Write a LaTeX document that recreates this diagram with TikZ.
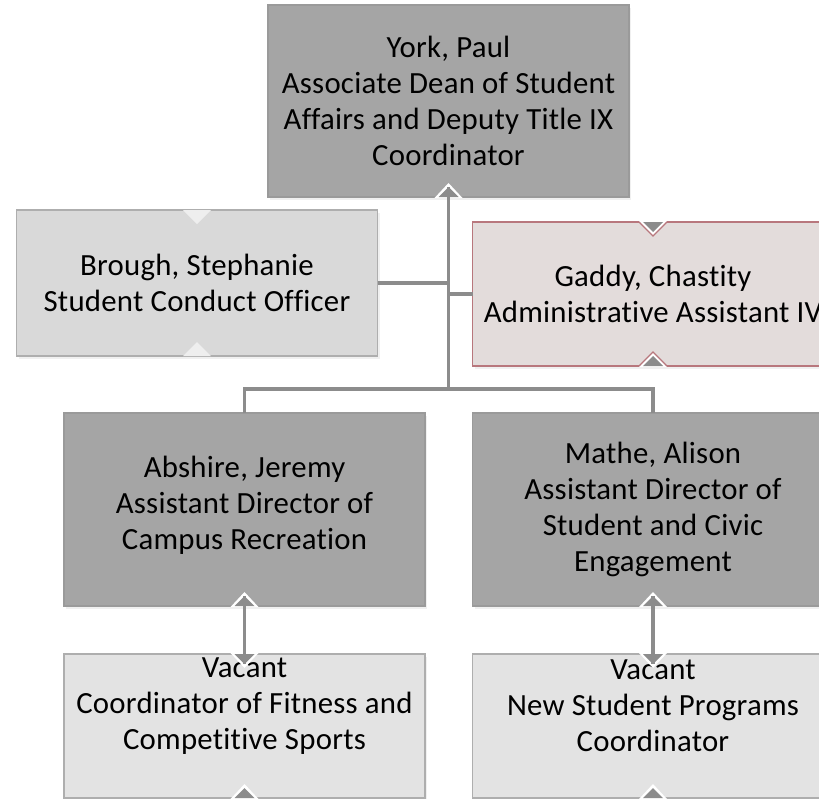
\documentclass[tikz,border=0pt]{standalone}
\usepackage{fontspec}
\setmainfont{Carlito}[Ligatures={NoCommon}, LetterSpace=0.8]
\usepackage{tikz}
\usetikzlibrary{positioning, calc, shadows}

\definecolor{boxdark}{HTML}{A5A5A5}
\definecolor{boxlight}{HTML}{D9D9D9}
\definecolor{boxpale}{HTML}{E3E3E3}
\definecolor{boxrose}{HTML}{E3DCDB}
\definecolor{edgegray}{HTML}{9A9A9A}
\definecolor{edgerose}{HTML}{B8777D}
\definecolor{linkgray}{HTML}{8C8C8C}

\begin{document}
\begin{tikzpicture}[x=1pt, y=-1pt,
	every node/.style={font=\fontsize{30.8}{36}\selectfont, align=center, outer sep=0pt, inner sep=0pt},
	orgbox/.style={rectangle, minimum width=361pt, line width=1.2pt,
		drop shadow={shadow xshift=2pt, shadow yshift=-3pt, opacity=0.12}},
	darkbox/.style={orgbox, fill=boxdark, draw=edgegray},
	lightbox/.style={orgbox, fill=boxlight, draw=edgegray!80},
	palebox/.style={orgbox, fill=boxpale, draw=edgegray!80},
	rosebox/.style={orgbox, fill=boxrose, draw=edgerose},
	link/.style={draw=linkgray, line width=3.5pt}]

	\useasboundingbox (0,0) rectangle (819,798);
	\clip (0,0) rectangle (819,798);

	\node [darkbox, minimum height=192pt] (york) at (448.5,101) {York, Paul\\Associate Dean of Student\\Affairs and Deputy Title IX\\Coordinator};
	\node [lightbox, minimum height=146pt] (brough) at (197,283) {Brough, Stephanie\\Student Conduct Officer};
	\node [rosebox, minimum height=144pt] (gaddy) at (653,294) {Gaddy, Chastity\\Administrative Assistant IV};
	\node [darkbox, minimum height=193pt, label={[yshift=4pt]center:Abshire, Jeremy\\Assistant Director of\\Campus Recreation}] (abshire) at (244.5,509.5) {};
	\node [darkbox, minimum height=193pt] (mathe) at (653,509.5) {Mathe, Alison\\Assistant Director of\\Student and Civic\\Engagement};
	\node [palebox, minimum height=144pt, label={[yshift=20pt]center:Vacant\\Coordinator of Fitness and\\Competitive Sports}] (vacA) at (244.5,726) {};
	\node [palebox, minimum height=144pt, label={[yshift=20pt]center:Vacant\\New Student Programs\\Coordinator}] (vacB) at (653,726) {};

	% notches on the lower edges
	\foreach \n in {york, gaddy, abshire, mathe, vacA, vacB}
	{
		\fill [white] ([xshift=-14pt, yshift=-1pt]\n.south) -- ([yshift=14pt]\n.south) -- ([xshift=14pt, yshift=-1pt]\n.south) -- cycle;
		\fill [linkgray] ([xshift=-10pt]\n.south) -- ([yshift=10pt]\n.south) -- ([xshift=10pt]\n.south) -- cycle;
	}
	% notches on the upper edges
	\foreach \n in {gaddy, vacA, vacB}
	{
		\fill [white] ([xshift=-14pt, yshift=1pt]\n.north) -- ([yshift=-14pt]\n.north) -- ([xshift=14pt, yshift=1pt]\n.north) -- cycle;
		\fill [linkgray] ([xshift=-10pt]\n.north) -- ([yshift=-10pt]\n.north) -- ([xshift=10pt]\n.north) -- cycle;
	}
	\fill [white!55!boxlight] ([xshift=-14pt]brough.north) -- ([yshift=-14pt]brough.north) -- ([xshift=14pt]brough.north) -- cycle;
	\fill [white!55!boxlight] ([xshift=-14pt]brough.south) -- ([yshift=14pt]brough.south) -- ([xshift=14pt]brough.south) -- cycle;
	\draw [edgerose, line width=1.2pt] ([xshift=-14pt]gaddy.north) -- ([yshift=-14pt]gaddy.north) -- ([xshift=14pt]gaddy.north);
	\draw [edgerose, line width=1.2pt] ([xshift=-14pt]gaddy.south) -- ([yshift=14pt]gaddy.south) -- ([xshift=14pt]gaddy.south);

	% connectors
	\coordinate (bus) at (448.5,389);
	\draw [link] ([yshift=10pt]york.south) -- (bus);
	\draw [link] (brough.east) -- (brough.east -| bus);
	\draw [link] (gaddy.west) -- (gaddy.west -| bus);
	\draw [link] (abshire.north) -- (abshire.north |- bus) -- (mathe.north |- bus) -- (mathe.north);
	\draw [link] ([yshift=10pt]abshire.south) -- ([yshift=-10pt]vacA.north);
	\draw [link] ([yshift=10pt]mathe.south) -- ([yshift=-10pt]vacB.north);
\end{tikzpicture}
\end{document}
